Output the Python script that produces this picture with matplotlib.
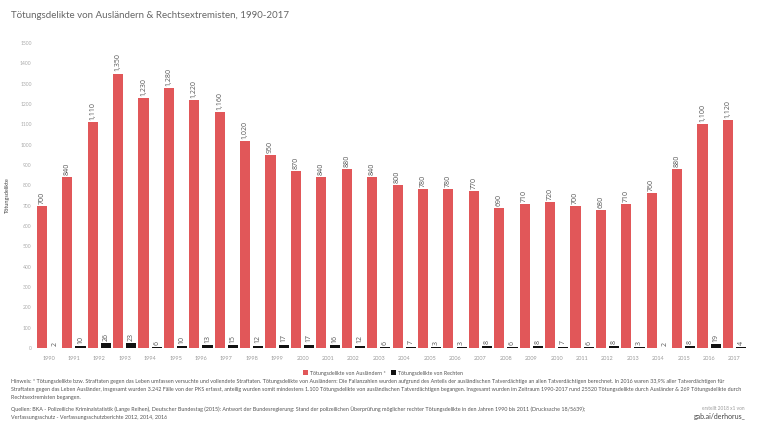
import matplotlib
matplotlib.use("Agg")
import matplotlib.pyplot as plt
from matplotlib.patches import Patch

plt.rcParams['font.family'] = ['Lato', 'DejaVu Sans']

years = list(range(1990, 2018))
auslaender = [700, 840, 1110, 1350, 1230, 1280, 1220, 1160, 1020, 950, 870, 840, 880, 840,
              800, 780, 780, 770, 690, 710, 720, 700, 680, 710, 760, 880, 1100, 1120]
rechte = [2, 10, 26, 23, 6, 10, 13, 15, 12, 17, 17, 16, 12, 6,
          7, 3, 3, 8, 6, 8, 7, 6, 8, 3, 2, 8, 19, 4]
series_names = ["Tötungsdelikte von Ausländern *", "Tötungsdelikte von Rechten"]
yticks = list(range(0, 1501, 100))

RED = "#E15759"
BLACK = "#111111"
W, H = 768, 432

def fx(px):
    return px / W

def fy(py):
    return 1 - py / H

fig = plt.figure(figsize=(W / 100, H / 100), dpi=100)
ax = fig.add_axes([fx(34.5), fy(348), (748.5 - 34.5) / W, (348 - 43) / H])

xs = list(range(len(years)))
off = 0.26
bw = 0.40
ax.bar([x - off for x in xs], auslaender, width=bw, color=RED, zorder=2)
ax.bar([x + off for x in xs], rechte, width=bw, color=BLACK, zorder=2)

lbl_font = ['Open Sans', 'DejaVu Sans']
for x, v in zip(xs, auslaender):
    ax.annotate(f"{v:,}", (x - off, v), xytext=(0, 1.5), textcoords="offset points",
                rotation=90, ha="center", va="bottom", fontsize=5.0, color="#555555",
                family=lbl_font)
for x, v in zip(xs, rechte):
    ax.annotate(f"{v:,}", (x + off, v), xytext=(0, 1.5), textcoords="offset points",
                rotation=90, ha="center", va="bottom", fontsize=5.0, color="#555555",
                family=lbl_font)

ax.set_xlim(-0.55, len(years) - 1 + 0.55)
ax.set_ylim(0, 1500)
ax.set_yticks(yticks)
ax.set_yticklabels([str(t) for t in yticks], fontsize=3.6, color="#aaaaaa")
ax.set_xticks(xs)
ax.set_xticklabels([str(y) for y in years], fontsize=4, color="#999999")
ax.tick_params(axis="x", length=0, pad=6)
ax.tick_params(axis="y", length=0, pad=2)
for s in ax.spines.values():
    s.set_visible(False)
ax.set_ylabel("Tötungsdelikte", fontsize=4, color="#444444", labelpad=7)

fig.text(fx(11), fy(15), "Tötungsdelikte von Ausländern & Rechtsextremisten, 1990-2017",
         fontsize=7.0, color="#666666", ha="left", va="center")

handles = [Patch(facecolor=RED, edgecolor="none"), Patch(facecolor=BLACK, edgecolor="none")]
fig.legend(handles, series_names, loc="center", bbox_to_anchor=(fx(383), fy(373)), ncol=2,
           frameon=False, fontsize=3.8, handlelength=0.9, handleheight=0.9,
           handletextpad=0.4, columnspacing=1.0, labelcolor="#555555")

note_lines = [
    "Hinweis: * Tötungsdelikte bzw. Straftaten gegen das Leben umfassen versuchte und vollendete Straftaten. Tötungsdelikte von Ausländern: Die Fallanzahlen wurden aufgrund des Anteils der ausländischen Tatverdächtige an allen Tatverdächtigen berechnet. In 2016 waren 33,9% aller Tatverdächtigen für",
    "Straftaten gegen das Leben Ausländer, insgesamt wurden 3.242 Fälle von der PKS erfasst, anteilig wurden somit mindestens 1.100 Tötungsdelikte von ausländischen Tatverdächtigen begangen. Insgesamt wurden im Zeitraum 1990-2017 rund 25520 Tötungsdelikte durch Ausländer & 269 Tötungsdelikte durch",
    "Rechtsextremisten begangen.",
]
for i, line in enumerate(note_lines):
    fig.text(fx(11), fy(381 + 8 * i), line, fontsize=3.83, color="#555555", ha="left", va="center")

src_lines = [
    "Quellen: BKA - Polizeiliche Kriminalstatistik (Lange Reihen), Deutscher Bundestag (2015): Antwort der Bundesregierung: Stand der polizeilichen Überprüfung möglicher rechter Tötungsdelikte in den Jahren 1990 bis 2011 (Drucksache 18/5639);",
    "Verfassungsschutz - Verfassungsschutzberichte 2012, 2014, 2016",
]
for i, line in enumerate(src_lines):
    fig.text(fx(11), fy(409 + 8 * i), line, fontsize=3.83, color="#555555", ha="left", va="center")

fig.text(fx(745), fy(408), "erstellt 2018 x1 von", fontsize=3.4, color="#999999", ha="right", va="center")
fig.text(fx(746), fy(416), "gab.ai/derhorus_", fontsize=5, color="#444444", ha="right", va="center")

fig.savefig("out.png", dpi=100)
